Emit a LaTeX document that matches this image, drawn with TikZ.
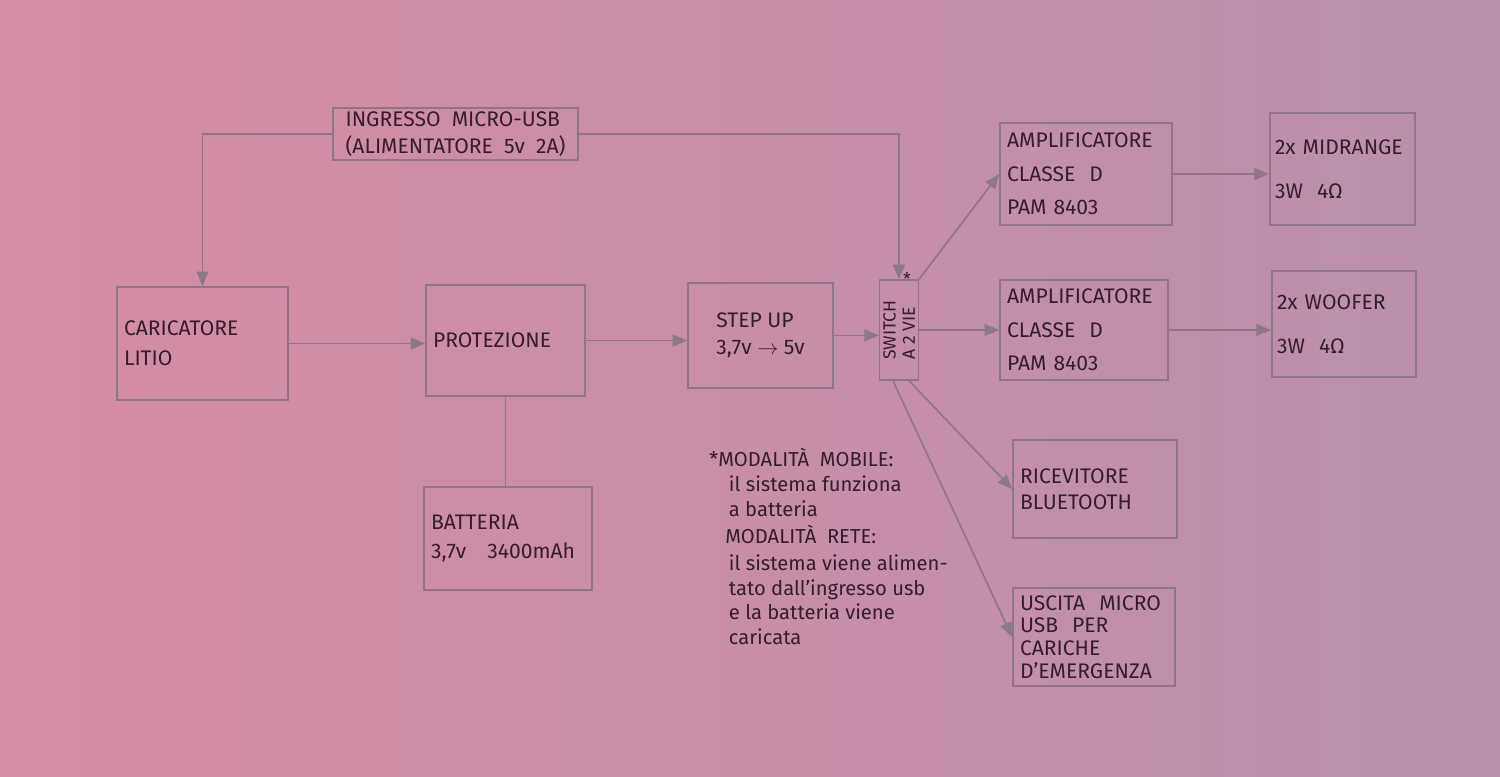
\documentclass[tikz,border=0pt]{standalone}
\usepackage{fontspec}
\setmainfont{Fira Sans}
\usepackage{tikz}
\usetikzlibrary{arrows}
\usetikzlibrary{positioning, calc}
\usepackage{xcolor}
\definecolor{paperL}{RGB}{214,140,164}
\definecolor{paperM}{RGB}{214,180,200}
\definecolor{paperR}{RGB}{186,144,172}
\definecolor{pencil}{RGB}{140,120,134}
\definecolor{ink}{RGB}{52,30,44}

\begin{document}
\begin{tikzpicture}[x=0.02cm, y=-0.02cm,
    blk/.style={draw=pencil, line width=0.9pt, text=ink, inner sep=4pt, align=left, font=\fontsize{12}{15}\selectfont},
    wire/.style={draw=pencil, line width=0.9pt},
    feed/.style={wire, -triangle 45}]
      \fill[left color=paperL, middle color=paperM, right color=paperR] (0,0) rectangle (1500,777);
      \useasboundingbox (0,0) rectangle (1500,777);

      \node[blk, minimum width=4.9cm, minimum height=1.04cm, inner sep=2pt] (usb) at (455.5,134) {INGRESSO\ \ MICRO-USB\\(ALIMENTATORE\ \ 5v\ \ 2A)};
      \node[blk, text width=3.14cm, minimum height=2.26cm] (car) at (202.5,343.5) {CARICATORE\\[2pt]LITIO};
      \node[blk, text width=2.9cm, minimum height=2.22cm] (prot) at (505.5,340.5) {PROTEZIONE};
      \node[blk, text width=3.08cm, minimum height=2.06cm] (bat) at (508,538.5) {BATTERIA\\[2pt]3,7v\ \ \ 3400mAh};
      \node[blk, minimum width=2.9cm, minimum height=2.1cm] (stepup) at (760.5,335.5) {STEP UP\\3,7v $\rightarrow$ 5v};
      \node[blk, rotate=90, minimum width=2cm, minimum height=0.76cm, inner sep=2pt, font=\fontsize{10}{11}\selectfont] (sw) at (899,330) {SWITCH\\A 2 VIE};
      \node[text=ink, inner sep=0pt] (star) at (907,279) {*};
      \node[blk, text width=3.16cm, minimum height=2.04cm] (amp1) at (1086,174) {AMPLIFICATORE\\[4pt]CLASSE\ \ D\\[4pt]PAM 8403};
      \node[blk, text width=3.08cm, minimum height=2cm] (amp2) at (1084,330) {AMPLIFICATORE\\[4pt]CLASSE\ \ D\\[4pt]PAM 8403};
      \node[blk, text width=2.7cm, inner sep=3pt, minimum height=2.24cm] (mid) at (1342.5,169) {\mbox{2x MIDRANGE}\\[10pt]3W\ \ 4Ω};
      \node[blk, text width=2.68cm, inner sep=3pt, minimum height=2.12cm] (woof) at (1344,324) {\mbox{2x WOOFER}\\[10pt]3W\ \ 4Ω};
      \node[blk, text width=3cm, minimum height=1.96cm] (bt) at (1095,489) {RICEVITORE\\BLUETOOTH};
      \node[blk, text width=2.96cm, minimum height=1.8cm, font=\fontsize{12}{13}\selectfont] (usc) at (1094,637) {USCITA\ \ MICRO\\USB\ \ PER\\CARICHE\\D'EMERGENZA};

      \node[text=ink, anchor=north west, align=left, inner sep=0pt, font=\fontsize{11.5}{14.2}\selectfont] (note) at (718,448) {%
        \llap{*}MODALITÀ\ \ MOBILE:\\
        \kern6pt il sistema funziona\\
        \kern6pt a batteria\\[1pt]
        \kern4pt MODALITÀ\ \ RETE:\\[1pt]
        \kern6pt il sistema viene alimen-\\
        \kern6pt tato dall'ingresso usb\\
        \kern6pt e la batteria viene\\
        \kern6pt caricata};

      \draw[feed] (usb.west) -| (car.north);
      \draw[feed] (usb.east) -| (sw.east);
      \draw[feed] (car.east) -- (car.east -| prot.west);
      \draw[feed] (prot.east) -- (prot.east -| stepup.west);
      \draw[wire] (prot.south) -- (prot.south |- bat.north);
      \draw[feed] (stepup.east) -- (stepup.east -| sw.north);
      \draw[feed] (sw.south east) -- (amp1.west);
      \draw[feed] (sw.south) -- (sw.south -| amp2.west);
      \draw[feed] ($(sw.west)!0.5!(sw.south west)$) -- (bt.west);
      \draw[feed] ($(sw.west)!0.3!(sw.north west)$) -- (usc.west);
      \draw[feed] (amp1.east) -- (amp1.east -| mid.west);
      \draw[feed] (amp2.east) -- (amp2.east -| woof.west);

    \end{tikzpicture}
\end{document}
